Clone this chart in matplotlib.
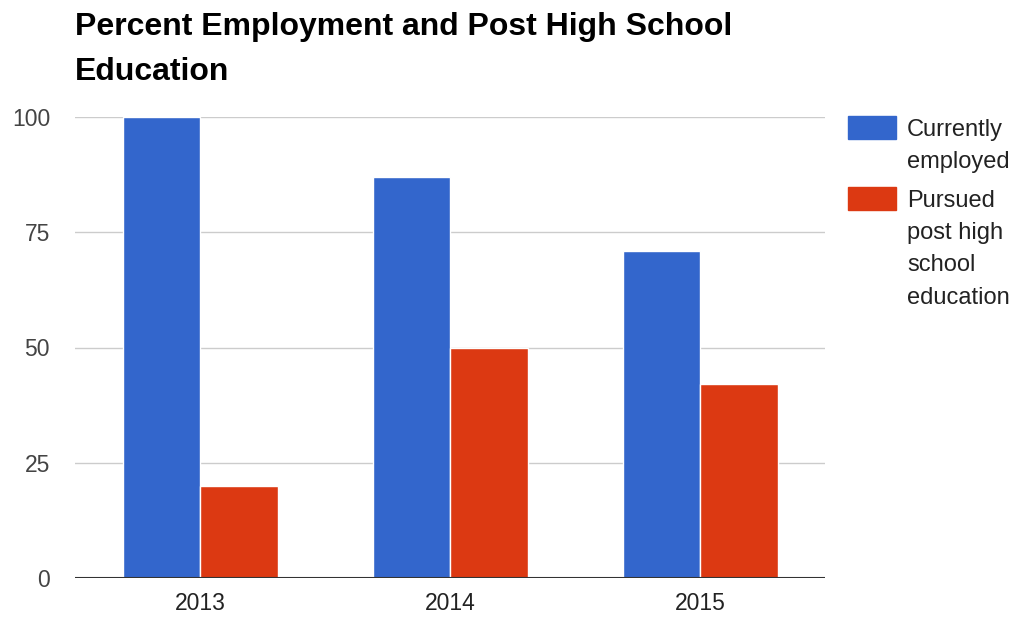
import matplotlib.pyplot as plt
from matplotlib.patches import Rectangle
import numpy as np

plt.rcParams['font.family'] = ['Liberation Sans', 'DejaVu Sans']

years = ['2013', '2014', '2015']
employed = [100, 87, 71]
education = [20, 50, 42]
series_names = ['Currently\nemployed', 'Pursued\npost high\nschool\neducation']
colors = ['#3366CC', '#DC3912']

fig = plt.figure(figsize=(10.16, 6.17), dpi=100)
ax = fig.add_axes([75 / 1016, 1 - 578 / 617, 750 / 1016, 461 / 617])

x = np.arange(len(years))
w = 0.31
ax.bar(x - w / 2, employed, w, color=colors[0], edgecolor='white', linewidth=1, zorder=3)
ax.bar(x + w / 2, education, w, color=colors[1], edgecolor='white', linewidth=1, zorder=3)

ax.set_xlim(-0.5, 2.5)
ax.set_ylim(0, 100)
ax.set_yticks([0, 25, 50, 75, 100])
ax.set_xticks(x)
ax.set_xticklabels(years)
ax.grid(axis='y', color='#cccccc', linewidth=1, zorder=0)
ax.axhline(0, color='#333333', linewidth=1.5, zorder=4)
for s in ax.spines.values():
    s.set_visible(False)
ax.tick_params(axis='both', length=0, labelsize=16.5, labelcolor='#444444')
ax.tick_params(axis='y', pad=18)
ax.tick_params(axis='x', pad=10, labelcolor='#222222')

fig.text(75 / 1016, 1 - 12 / 617, 'Percent Employment and Post High School\nEducation',
         fontsize=23, fontweight='bold', va='top', ha='left', linespacing=1.64)

# legend drawn by hand
leg_y = [116, 187]
for i, name in enumerate(series_names):
    fig.patches.append(Rectangle((848 / 1016, 1 - (leg_y[i] + 23) / 617), 48 / 1016, 23 / 617,
                                 transform=fig.transFigure, color=colors[i]))
    fig.text(907 / 1016, 1 - (leg_y[i] + 3) / 617, name, fontsize=17, color='#222222',
             va='top', ha='left', linespacing=1.6)

fig.savefig('out.png', dpi=100)
